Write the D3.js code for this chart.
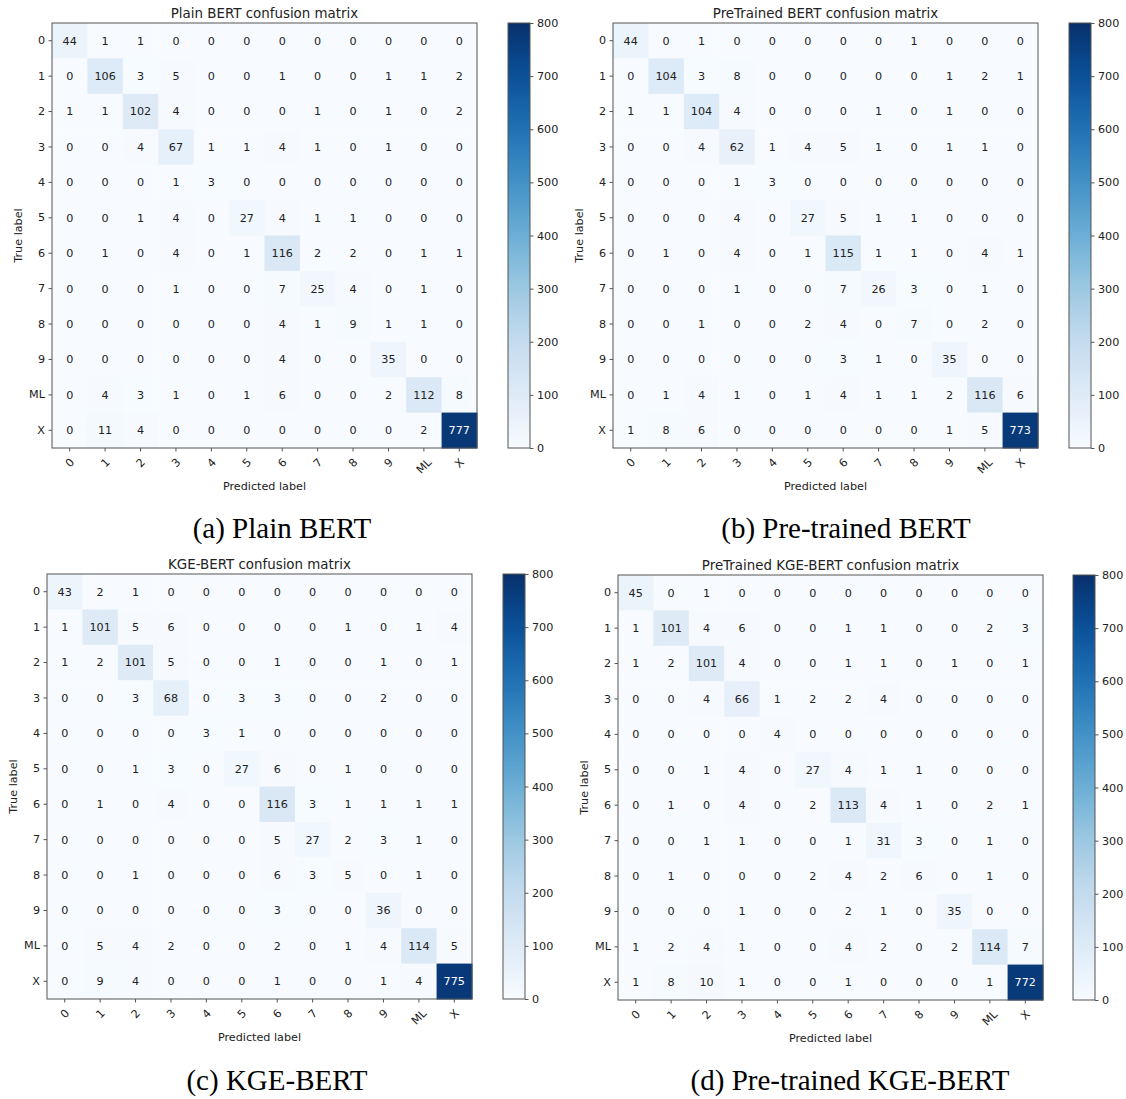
<!DOCTYPE html>
<html>
<head>
<meta charset="utf-8">
<script src="https://cdn.jsdelivr.net/npm/d3@7"></script>
<style>
body { margin: 0; background: #fff; }
</style>
</head>
<body>
<script>
// class names (rows = true label, cols = predicted label)
const classLabels = ["0", "1", "2", "3", "4", "5", "6", "7", "8", "9", "ML", "X"];

const plainBert = [
  [44, 1, 1, 0, 0, 0, 0, 0, 0, 0, 0, 0],
  [0, 106, 3, 5, 0, 0, 1, 0, 0, 1, 1, 2],
  [1, 1, 102, 4, 0, 0, 0, 1, 0, 1, 0, 2],
  [0, 0, 4, 67, 1, 1, 4, 1, 0, 1, 0, 0],
  [0, 0, 0, 1, 3, 0, 0, 0, 0, 0, 0, 0],
  [0, 0, 1, 4, 0, 27, 4, 1, 1, 0, 0, 0],
  [0, 1, 0, 4, 0, 1, 116, 2, 2, 0, 1, 1],
  [0, 0, 0, 1, 0, 0, 7, 25, 4, 0, 1, 0],
  [0, 0, 0, 0, 0, 0, 4, 1, 9, 1, 1, 0],
  [0, 0, 0, 0, 0, 0, 4, 0, 0, 35, 0, 0],
  [0, 4, 3, 1, 0, 1, 6, 0, 0, 2, 112, 8],
  [0, 11, 4, 0, 0, 0, 0, 0, 0, 0, 2, 777]
];

const pretrainedBert = [
  [44, 0, 1, 0, 0, 0, 0, 0, 1, 0, 0, 0],
  [0, 104, 3, 8, 0, 0, 0, 0, 0, 1, 2, 1],
  [1, 1, 104, 4, 0, 0, 0, 1, 0, 1, 0, 0],
  [0, 0, 4, 62, 1, 4, 5, 1, 0, 1, 1, 0],
  [0, 0, 0, 1, 3, 0, 0, 0, 0, 0, 0, 0],
  [0, 0, 0, 4, 0, 27, 5, 1, 1, 0, 0, 0],
  [0, 1, 0, 4, 0, 1, 115, 1, 1, 0, 4, 1],
  [0, 0, 0, 1, 0, 0, 7, 26, 3, 0, 1, 0],
  [0, 0, 1, 0, 0, 2, 4, 0, 7, 0, 2, 0],
  [0, 0, 0, 0, 0, 0, 3, 1, 0, 35, 0, 0],
  [0, 1, 4, 1, 0, 1, 4, 1, 1, 2, 116, 6],
  [1, 8, 6, 0, 0, 0, 0, 0, 0, 1, 5, 773]
];

const kgeBert = [
  [43, 2, 1, 0, 0, 0, 0, 0, 0, 0, 0, 0],
  [1, 101, 5, 6, 0, 0, 0, 0, 1, 0, 1, 4],
  [1, 2, 101, 5, 0, 0, 1, 0, 0, 1, 0, 1],
  [0, 0, 3, 68, 0, 3, 3, 0, 0, 2, 0, 0],
  [0, 0, 0, 0, 3, 1, 0, 0, 0, 0, 0, 0],
  [0, 0, 1, 3, 0, 27, 6, 0, 1, 0, 0, 0],
  [0, 1, 0, 4, 0, 0, 116, 3, 1, 1, 1, 1],
  [0, 0, 0, 0, 0, 0, 5, 27, 2, 3, 1, 0],
  [0, 0, 1, 0, 0, 0, 6, 3, 5, 0, 1, 0],
  [0, 0, 0, 0, 0, 0, 3, 0, 0, 36, 0, 0],
  [0, 5, 4, 2, 0, 0, 2, 0, 1, 4, 114, 5],
  [0, 9, 4, 0, 0, 0, 1, 0, 0, 1, 4, 775]
];

const pretrainedKgeBert = [
  [45, 0, 1, 0, 0, 0, 0, 0, 0, 0, 0, 0],
  [1, 101, 4, 6, 0, 0, 1, 1, 0, 0, 2, 3],
  [1, 2, 101, 4, 0, 0, 1, 1, 0, 1, 0, 1],
  [0, 0, 4, 66, 1, 2, 2, 4, 0, 0, 0, 0],
  [0, 0, 0, 0, 4, 0, 0, 0, 0, 0, 0, 0],
  [0, 0, 1, 4, 0, 27, 4, 1, 1, 0, 0, 0],
  [0, 1, 0, 4, 0, 2, 113, 4, 1, 0, 2, 1],
  [0, 0, 1, 1, 0, 0, 1, 31, 3, 0, 1, 0],
  [0, 1, 0, 0, 0, 2, 4, 2, 6, 0, 1, 0],
  [0, 0, 0, 1, 0, 0, 2, 1, 0, 35, 0, 0],
  [1, 2, 4, 1, 0, 0, 4, 2, 0, 2, 114, 7],
  [1, 8, 10, 1, 0, 0, 1, 0, 0, 0, 1, 772]
];

const colorbarTicks = [0, 100, 200, 300, 400, 500, 600, 700, 800];
const colorMax = 800;

const titles = ["Plain BERT confusion matrix", "PreTrained BERT confusion matrix",
                "KGE-BERT confusion matrix", "PreTrained KGE-BERT confusion matrix"];
const captions = ["(a) Plain BERT", "(b) Pre-trained BERT", "(c) KGE-BERT", "(d) Pre-trained KGE-BERT"];

const W = 1126, H = 1099;
const size = 425;      // heatmap side
const cbWidth = 22;    // colorbar width
const axisColor = "#555";
const textColor = "#222";
const sans = "DejaVu Sans, sans-serif";
const lblSize = "11.2px";

const svg = d3.select("body").append("svg")
    .attr("width", W)
    .attr("height", H);

const color = d3.scaleSequential(d3.interpolateBlues).domain([0, colorMax]);

// gradient for the colorbars
const grad = svg.append("defs").append("linearGradient")
    .attr("id", "blues")
    .attr("x1", "0").attr("y1", "1").attr("x2", "0").attr("y2", "0");
d3.range(0, colorMax + 1, 20).forEach(v => {
  grad.append("stop")
      .attr("offset", v / colorMax)
      .attr("stop-color", color(v));
});

// layout of the four sub-figures
const panels = [
  { data: plainBert,         x: 52,  y: 23,  cbx: 508,  capx: 282, capy: 538 },
  { data: pretrainedBert,    x: 613, y: 23,  cbx: 1069, capx: 846, capy: 538 },
  { data: kgeBert,           x: 47,  y: 574, cbx: 503,  capx: 277, capy: 1090 },
  { data: pretrainedKgeBert, x: 618, y: 575, cbx: 1073, capx: 850, capy: 1090 }
];

function styleTicks(sel) {
  sel.select(".domain").remove();
  sel.selectAll("line").attr("stroke", axisColor);
  sel.selectAll("text")
      .style("font-size", lblSize)
      .style("font-family", sans)
      .attr("fill", textColor);
}

function drawMatrix(p, idx) {
  const g = svg.append("g").attr("transform", `translate(${p.x},${p.y})`);

  const xScale = d3.scaleBand().domain(classLabels).range([0, size]);
  const yScale = d3.scaleBand().domain(classLabels).range([0, size]);
  const maxVal = d3.max(p.data.flat());

  const cells = [];
  p.data.forEach((row, i) => row.forEach((v, j) => {
    cells.push({ trueLbl: classLabels[i], predLbl: classLabels[j], v: v });
  }));

  g.selectAll("rect.cell").data(cells).join("rect")
      .attr("class", "cell")
      .attr("x", d => xScale(d.predLbl))
      .attr("y", d => yScale(d.trueLbl))
      .attr("width", xScale.bandwidth() + 0.5)
      .attr("height", yScale.bandwidth() + 0.5)
      .attr("fill", d => color(d.v));

  g.selectAll("text.val").data(cells).join("text")
      .attr("class", "val")
      .attr("x", d => xScale(d.predLbl) + xScale.bandwidth() / 2)
      .attr("y", d => yScale(d.trueLbl) + yScale.bandwidth() / 2)
      .attr("dy", "0.35em")
      .attr("text-anchor", "middle")
      .style("font-family", sans)
      .style("font-size", lblSize)
      .attr("fill", d => d.v > maxVal / 2 ? "#fff" : textColor)
      .text(d => d.v);

  // frame
  g.append("rect")
      .attr("width", size).attr("height", size)
      .attr("fill", "none")
      .attr("stroke", axisColor)
      .attr("stroke-width", 1);

  // axes
  const gy = g.append("g").call(d3.axisLeft(yScale).tickSize(3.5).tickPadding(3.5));
  styleTicks(gy);

  const gx = g.append("g")
      .attr("transform", `translate(0,${size})`)
      .call(d3.axisBottom(xScale).tickSize(3.5));
  styleTicks(gx);
  gx.selectAll("text")
      .attr("y", 0).attr("dy", "0.35em")
      .attr("text-anchor", "middle")
      .each(function () {
        const w = this.getComputedTextLength();
        const ext = (w + 12) * Math.SQRT1_2;
        d3.select(this).attr("transform", `translate(0,${8 + ext / 2}) rotate(-45)`);
      });

  // titles and axis labels
  g.append("text")
      .attr("x", size / 2).attr("y", -5)
      .attr("text-anchor", "middle")
      .style("font-family", sans)
      .style("font-size", "13.4px")
      .attr("fill", textColor)
      .text(titles[idx]);

  g.append("text")
      .attr("x", size / 2).attr("y", size + 42)
      .attr("text-anchor", "middle")
      .style("font-family", sans)
      .style("font-size", lblSize)
      .attr("fill", textColor)
      .text("Predicted label");

  g.append("text")
      .attr("transform", `translate(-30,${size / 2}) rotate(-90)`)
      .attr("text-anchor", "middle")
      .style("font-family", sans)
      .style("font-size", lblSize)
      .attr("fill", textColor)
      .text("True label");

  // colorbar
  const cb = svg.append("g").attr("transform", `translate(${p.cbx},${p.y})`);
  cb.append("rect")
      .attr("width", cbWidth).attr("height", size)
      .attr("fill", "url(#blues)")
      .attr("stroke", axisColor);
  const cbScale = d3.scaleLinear().domain([0, colorMax]).range([size, 0]);
  const gc = cb.append("g")
      .attr("transform", `translate(${cbWidth},0)`)
      .call(d3.axisRight(cbScale).tickValues(colorbarTicks).tickSize(3.5).tickPadding(3.5));
  styleTicks(gc);

  // sub-figure caption
  svg.append("text")
      .attr("x", p.capx).attr("y", p.capy)
      .attr("text-anchor", "middle")
      .style("font-family", "Liberation Serif, serif")
      .style("font-size", "29px")
      .attr("fill", "#000")
      .text(captions[idx]);
}

panels.forEach(drawMatrix);
</script>
</body>
</html>
